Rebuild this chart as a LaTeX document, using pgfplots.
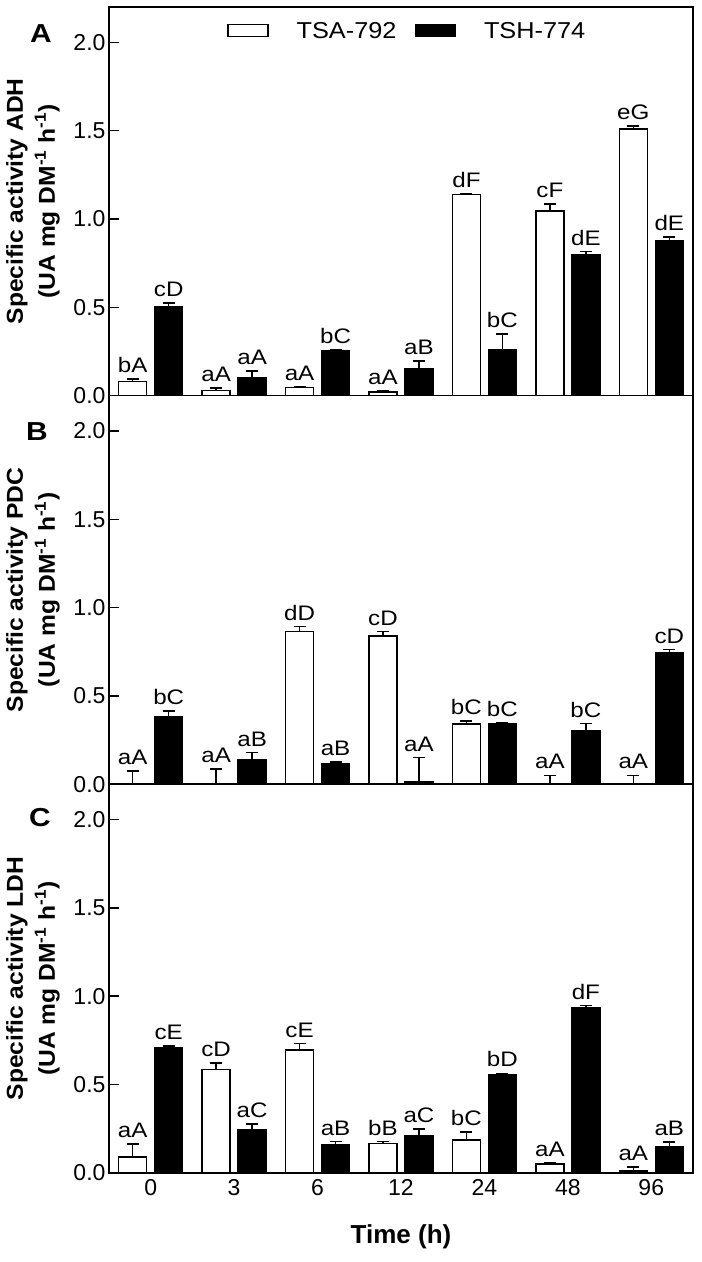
\documentclass[border=0pt]{standalone}
\usepackage{fontspec}
\setmainfont{Liberation Sans}
\newfontfamily\lblfont{Liberation Sans}[FakeStretch=1.15]
\newfontfamily\legfont{Liberation Sans}[FakeStretch=1.1]
\newfontfamily\ylfont{Liberation Sans}[FakeStretch=1.07]
\usepackage{pgfplots}
\usepackage{pgfplotstable}
\pgfplotsset{compat=1.18}

% ADH
\pgfplotstableread{
x a ae al b be bl
0 0.08 0.013 bA 0.505 0.02 cD
1 0.03 0.012 aA 0.10 0.04 aA
2 0.045 0.004 aA 0.255 0.004 bC
3 0.02 0.008 aA 0.15 0.045 aB
4 1.138 0.005 dF 0.26 0.09 bC
5 1.045 0.04 cF 0.795 0.02 dE
6 1.51 0.015 eG 0.875 0.022 dE
}\tA
% PDC
\pgfplotstableread{
x a ae al b be bl
0 0 0.074 aA 0.38 0.035 bC
1 0 0.085 aA 0.14 0.04 aB
2 0.865 0.027 dD 0.115 0.01 aB
3 0.838 0.026 cD 0.015 0.135 aA
4 0.34 0.017 bC 0.343 0.005 bC
5 0 0.05 aA 0.305 0.038 bC
6 0 0.05 aA 0.745 0.018 cD
}\tB
% LDH
\pgfplotstableread{
x a ae al b be bl
0 0.09 0.073 aA 0.71 0.009 cE
1 0.585 0.036 cD 0.245 0.031 aC
2 0.695 0.037 cE 0.16 0.017 aB
3 0.165 0.012 bB 0.21 0.037 aC
4 0.185 0.047 bC 0.553 0.01 bD
5 0.05 0.008 aA 0.934 0.013 dF
6 0.01 0.024 aA 0.145 0.03 aB
}\tC

\def\off{0.2157}

\pgfplotsset{
 panel/.style={
  scale only axis, width=584pt, height=388.6pt,
  xmin=-0.5, xmax=6.5, ymin=0, ymax=2.2,
  xtick={0,...,6}, xticklabels={},
  ytick={0,0.5,1,1.5,2}, yticklabels={0.0,0.5,1.0,1.5,2.0},
  ytick pos=left, tick align=inside, major tick length=10pt,
  ytick style={line width=1.5pt, black},
  xtick style={draw=none},
  axis line style={line width=1.6pt},
  tick label style={font=\fontsize{23}{26}\selectfont},
  ylabel style={at={(rel axis cs:-0.13,0.5)}, anchor=center, align=center,
    font=\ylfont\bfseries\fontsize{23}{32}\selectfont},
  clip=false,
 },
 barbase/.style={ybar, bar width=28pt, bar shift=0pt, draw=black,
  line width=1.5pt, forget plot,
  error bars/.cd, y dir=plus, y explicit,
  error bar style={line width=1.5pt, black},
  error mark options={rotate=90, mark size=6pt, line width=1.5pt, black}},
 lab/.style={draw=none, mark=none, forget plot, nodes near coords,
  point meta=explicit symbolic,
  every node near coord/.append style={anchor=south, inner sep=0pt,
   yshift=6pt, font=\lblfont\fontsize{21}{24}\selectfont, text=black}},
}

\newcommand{\panelplots}[1]{%
 \addplot[fill=white, barbase] table[x expr=\thisrow{x}-\off, y=a, y error=ae]{#1};
 \addplot[fill=black, barbase] table[x expr=\thisrow{x}+\off, y=b, y error=be]{#1};
 \addplot[lab] table[x expr=\thisrow{x}-\off, y expr=\thisrow{a}+\thisrow{ae}, meta=al]{#1};
 \addplot[lab] table[x expr=\thisrow{x}+\off, y expr=\thisrow{b}+\thisrow{be}, meta=bl]{#1};
}

\begin{document}
\begin{tikzpicture}
\useasboundingbox (0pt,0pt) rectangle (702pt,-1262pt);

\begin{axis}[panel, at={(109pt,-7pt)}, anchor=north west,
  ylabel={Specific activity ADH\\(UA mg DM\textsuperscript{-1} h\textsuperscript{-1})},
  legend columns=2,
  legend style={draw=none, fill=none, at={(rel axis cs:0.202,0.962)}, anchor=north west,
   font=\legfont\fontsize{23}{26}\selectfont, inner sep=0pt, nodes={inner sep=0pt},
   /tikz/every odd column/.append style={column sep=28pt},
   /tikz/every even column/.append style={column sep=18pt}},
  legend cell align=left]
 \addlegendimage{legend image code/.code={\draw[line width=1.5pt, fill=white, draw=black] (0pt,-6pt) rectangle (40pt,6pt);}}
 \addlegendentry{TSA-792}
 \addlegendimage{legend image code/.code={\draw[line width=1.5pt, fill=black, draw=black] (0pt,-6pt) rectangle (40pt,6pt);}}
 \addlegendentry{TSH-774}
 \panelplots{\tA}
\end{axis}

\begin{axis}[panel, at={(109pt,-395.6pt)}, anchor=north west,
  ylabel={Specific activity PDC\\(UA mg DM\textsuperscript{-1} h\textsuperscript{-1})}]
 \panelplots{\tB}
\end{axis}

\begin{axis}[panel, at={(109pt,-784.2pt)}, anchor=north west,
  ylabel={Specific activity LDH\\(UA mg DM\textsuperscript{-1} h\textsuperscript{-1})},
  xticklabels={0,3,6,12,24,48,96},
  xticklabel style={yshift=-3pt},
  xlabel={Time (h)},
  xlabel style={at={(rel axis cs:0.5,0)}, anchor=center, yshift=-64pt,
   font=\bfseries\fontsize{26}{30}\selectfont}]
 \panelplots{\tC}
\end{axis}

\node[font=\lblfont\bfseries\fontsize{26}{30}\selectfont] at (41pt,-34pt) {A};
\node[font=\lblfont\bfseries\fontsize{26}{30}\selectfont] at (37pt,-432pt) {B};
\node[font=\lblfont\bfseries\fontsize{26}{30}\selectfont] at (40pt,-818pt) {C};
\end{tikzpicture}
\end{document}
